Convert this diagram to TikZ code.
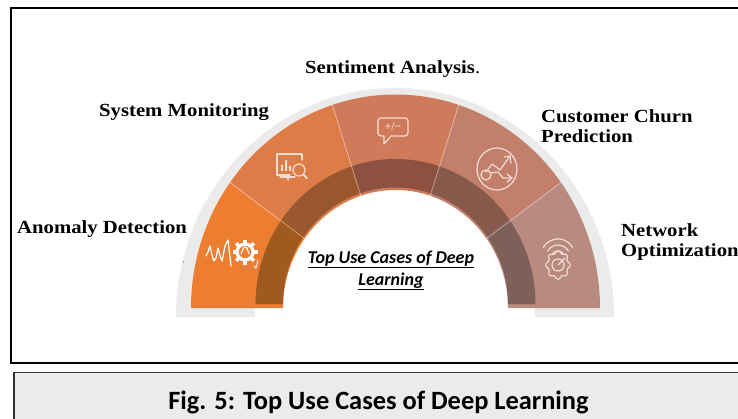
\documentclass[tikz,border=0pt]{standalone}
\usepackage{fontspec}
\usetikzlibrary{calc}
\setmainfont{Liberation Serif}
\newfontfamily\usecasefont[FakeStretch=1.12]{Liberation Serif}
\newfontfamily\capfont{Carlito}
\definecolor{segA}{HTML}{ED7D31}
\definecolor{segB}{HTML}{DE7C48}
\definecolor{segC}{HTML}{CF7A5A}
\definecolor{segD}{HTML}{C2806C}
\definecolor{segE}{HTML}{B88A80}
\definecolor{bandA}{HTML}{A05A20}
\definecolor{bandB}{HTML}{99572F}
\definecolor{bandC}{HTML}{8C5140}
\definecolor{bandD}{HTML}{87594A}
\definecolor{bandE}{HTML}{7F6058}
\definecolor{rim}{HTML}{EBEBEB}
\definecolor{iconline}{HTML}{F3DDD2}
\tikzset{
  usecase/.style={font=\usecasefont\fontsize{18.5}{20}\selectfont\bfseries,anchor=west,inner sep=0pt,align=left},
  icon/.style={draw=iconline,line width=1.2pt,line cap=round,line join=round},
  seam/.style={draw=white,draw opacity=0.45,line width=0.7pt},
}
\begin{document}
\begin{tikzpicture}[x=1pt,y=1pt]
  \useasboundingbox (0,0) rectangle (738,418);
  \fill[white] (0,0) rectangle (738,418);
  \draw[line width=2pt] (11,55.5) rectangle (750,409.5);
  \draw[fill=rim,line width=1.2pt,draw=black!80] (14,-10) rectangle (750,45.5);
  \node[font=\capfont\fontsize{26.4}{28}\selectfont\bfseries,inner sep=0pt] (caption) at (378.5,16) {Fig. 5: Top Use Cases of Deep Learning};

  \fill[rim] (176,101) arc [start angle=180,end angle=0,x radius=219,y radius=229] -- (535,101) arc [start angle=0,end angle=180,x radius=140,y radius=146] -- cycle;

  \foreach \tint/\start in {segA/180,segB/144,segC/108,segD/72,segE/36}
    \fill[\tint] ($(395.5,110)+(\start:204.5 and 213.5)$) arc [start angle=\start,delta angle=-36,x radius=204.5,y radius=213.5]
      -- ($(395.5,110)+(\start-36:112.5 and 118)$) arc [start angle=\start-36,delta angle=36,x radius=112.5,y radius=118] -- cycle;
  \foreach \tint/\start in {bandA/180,bandB/144,bandC/108,bandD/72,bandE/36}
    \fill[\tint] ($(395.5,114)+(\start:140 and 145)$) arc [start angle=\start,delta angle=-36,x radius=140,y radius=145]
      -- ($(395.5,114)+(\start-36:112.5 and 116.5)$) arc [start angle=\start-36,delta angle=36,x radius=112.5,y radius=116.5] -- cycle;
  \foreach \start in {144,108,72,36}
    \draw[seam] ($(395.5,110)+(\start:204.5 and 213.5)$) -- ($(395.5,110)+(\start:112.5 and 118)$);

  \node[usecase] (anomaly) at (17,188.5) {Anomaly Detection};
  \node[usecase] (monitoring) at (99,305.5) {System Monitoring};
  \node[usecase] (sentiment) at (305,348.5) {Sentiment Analysis\textmd{.}};
  \node[usecase] (churn) at (541,292) {Customer Churn\\Prediction};
  \node[usecase] (network) at (621,175.5) {Network\\Optimization};
  \node[font=\capfont\fontsize{18}{22}\selectfont\bfseries\itshape,inner sep=0pt,align=center] (title) at (391,147.5) {\underline{Top Use Cases of Deep}\\\underline{Learning}};
  \fill[black!60] (183.5,156) circle (0.6);

  % anomaly icon
  \draw[icon,draw=white] (206,162) -- (208,166) -- (210,172) -- (212,163) -- (214,157) -- (216,160) -- (218,170) -- (220,162) -- (222,157) -- (225,172) -- (228,178) -- (231,152);
  \draw[icon] (254,152) -- (256,150) -- (258,158);
  \foreach \a in {0,45,...,315}
    \draw[white,line width=3.4pt] (245,166) ++(\a:8) -- ++(\a:4.5);
  \draw[white,line width=3.2pt,fill=segA] (245,166) circle (8);
  \draw[icon,draw=white] (241,164) -- (243.5,170) -- (245,171) -- (247,170) -- (249,164);

  % monitoring icon
  \draw[icon] (302,264) -- (302,258) (302,264) -- (277,264) -- (277,243) -- (290,243);
  \draw[icon] (288,243) -- (288,238) (280,241) -- (295,241);
  \fill[iconline] (281,247) rectangle (283,253) (285,247) rectangle (287,258) (289,247) rectangle (291,252);
  \draw[icon] (299,248) circle (6);
  \draw[icon,line width=1.8pt] (303.5,243.5) -- (307,239.5);

  % sentiment icon
  \draw[icon] (381,300) -- (405,300) to[out=0,in=90] (408,297) -- (408,285) to[out=-90,in=0] (405,282) -- (391,282) -- (384,274) -- (384,282) -- (381,282) to[out=180,in=-90] (378,285) -- (378,297) to[out=90,in=180] cycle;
  \node[text=iconline,font=\fontsize{12}{12}\selectfont\bfseries,inner sep=0pt] (sign) at (393,291) {+/−};

  % churn icon
  \draw[icon] (497,249) ellipse (20 and 21);
  \draw[icon] (486,243) circle (5);
  \draw[icon] (486,246) -- (492,254) -- (500,248) -- (510,262);
  \draw[icon] (504,261) -- (510,262) -- (511,255);
  \draw[icon] (490,245) -- (498,246) -- (503,240) -- (512,240);
  \draw[icon] (507,244) -- (512,240) -- (507,236);

  % network icon
  \foreach \r/\h in {17/162,12/161,7/160}
    \draw[icon] (558,\h) ++(150:\r) arc [start angle=150,end angle=30,radius=\r];
  \draw[icon] plot[domain=0:360,samples=73,smooth,variable=\t] ({558+(11+1.2*cos(8*\t))*cos(\t)},{153+(13+1.2*cos(8*\t))*sin(\t)});
  \draw[icon] (558,153) circle (6);
  \draw[icon] (558,153) -- (565,160);
\end{tikzpicture}
\end{document}
